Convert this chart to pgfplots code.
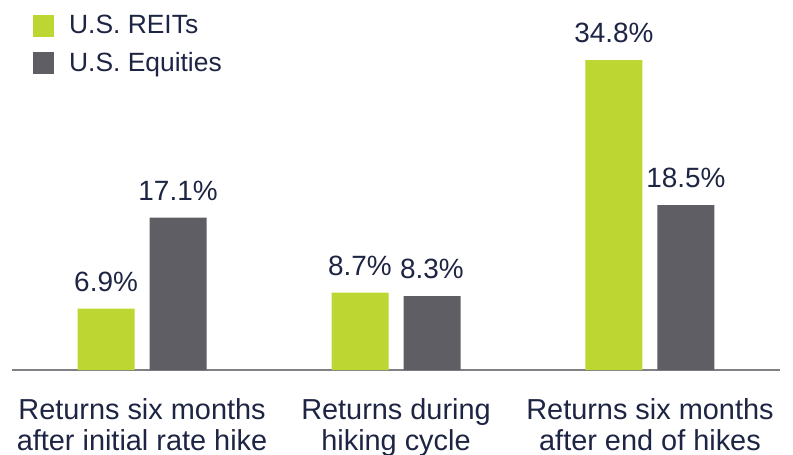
\documentclass[border=0pt]{standalone}
\usepackage{pgfplots}
\pgfplotsset{compat=1.18}
\usepackage{fontspec}
\setmainfont{Liberation Sans}

\definecolor{reit}{HTML}{BDD631}
\definecolor{equity}{HTML}{5F5E65}
\definecolor{txt}{HTML}{1E2443}
\definecolor{baseln}{HTML}{808085}

\begin{document}
\begin{tikzpicture}
\begin{axis}[
    scale only axis,
    width=768bp, height=370bp,
    xmin=-0.512, xmax=2.512,
    ymin=0, ymax=41.54,
    ybar=15bp, bar width=57bp,
    axis y line=none,
    axis x line*=bottom,
    x axis line style={draw=baseln, line width=2.5bp, -},
    xtick={0,1,2},
    major tick length=0pt,
    xticklabels={{Returns six months\\after initial rate hike},{Returns during\\hiking cycle},{Returns six months\\after end of hikes}},
    xticklabel style={font=\fontsize{29}{31}\selectfont, text=txt, align=center, inner sep=0pt, yshift=-28bp},
    /pgf/number format/assume math mode=true,
    nodes near coords={\pgfmathprintnumber[fixed,precision=1,fixed zerofill]{\pgfplotspointmeta}\%},
    nodes near coords style={font=\fontsize{28}{30}\selectfont, text=txt, inner sep=0pt, yshift=17bp},
    legend style={at={(0.0273,0.96)}, anchor=north west, draw=none, fill=none,
        font=\fontsize{26.5}{30}\selectfont, text=txt, inner sep=0pt, row sep=15bp,
        nodes={inner sep=0pt, anchor=base west},
        /tikz/every odd column/.append style={column sep=15bp}},
    legend image code/.code={\fill[#1,draw=none] (0bp,-3bp) rectangle (21bp,19bp);},
    clip=false,
]
\addplot[fill=reit, draw=none] coordinates {(0,6.9) (1,8.7) (2,34.8)};
\addplot[fill=equity, draw=none] coordinates {(0,17.1) (1,8.3) (2,18.5)};
\legend{U.S. REITs, U.S. Equities}
\end{axis}
\pgfresetboundingbox
\useasboundingbox (-12bp,-85bp) rectangle (781bp,370bp);
\end{tikzpicture}
\end{document}
